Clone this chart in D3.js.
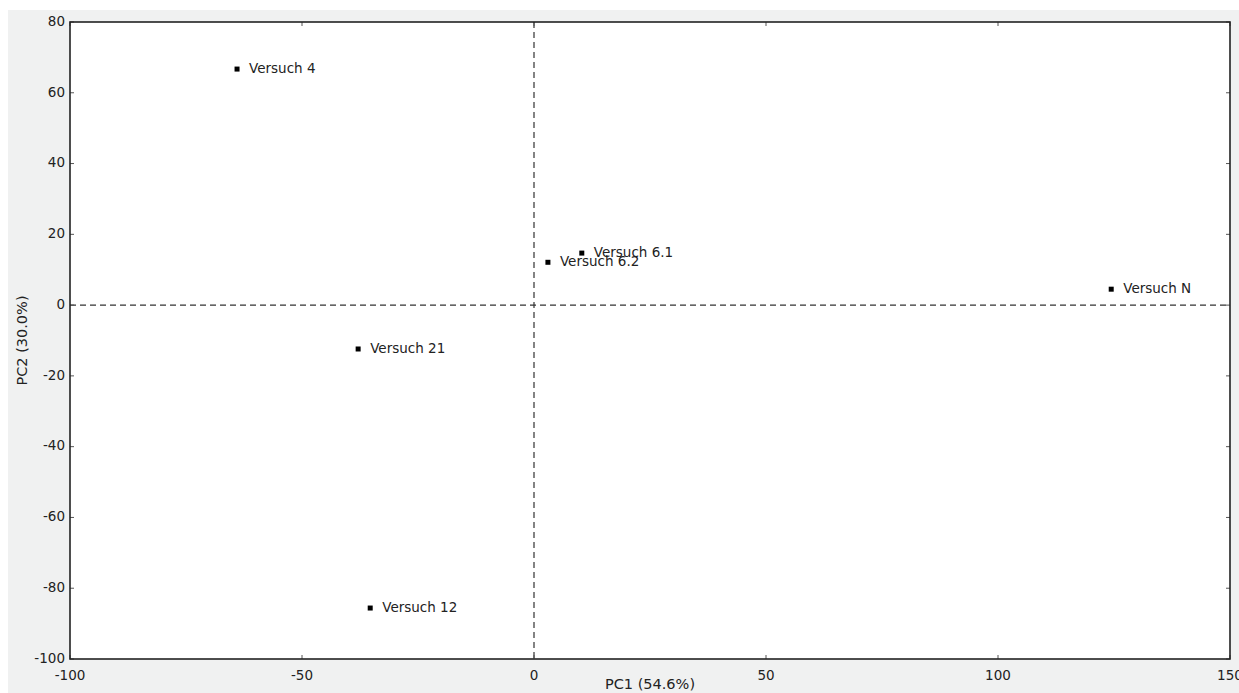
<!DOCTYPE html>
<html lang="de">
<head>
<meta charset="UTF-8" />
<title>PCA Versuche</title>
<script src="https://d3js.org/d3.v7.min.js"></script>
<style>
  html, body { margin: 0; padding: 0; background: #fff; }
  #chart { position: absolute; left: 0; top: 0; }
  text { font-family: "DejaVu Sans", sans-serif; fill: #222; }
</style>
</head>
<body>
<div id="chart"></div>
<script>
// data
const names = ["Versuch 4", "Versuch 6.1", "Versuch 6.2", "Versuch N", "Versuch 21", "Versuch 12"];
const pc1 = [-64.0, 10.3, 3.0, 124.4, -37.9, -35.3];
const pc2 = [66.7, 14.7, 12.1, 4.5, -12.4, -85.6];
const xTicks = [-100, -50, 0, 50, 100, 150];
const yTicks = [-100, -80, -60, -40, -20, 0, 20, 40, 60, 80];

const width = 1239, height = 693;
const plot = { left: 70, right: 1230, top: 22, bottom: 659 };

const svg = d3.select("#chart").append("svg")
  .attr("width", width)
  .attr("height", height);

// grey figure background
svg.append("rect")
  .attr("x", 8).attr("y", 10)
  .attr("width", width - 8).attr("height", height - 10)
  .attr("fill", "#f0f1f1");

const x = d3.scaleLinear().domain([-100, 150]).range([plot.left, plot.right]);
const y = d3.scaleLinear().domain([-100, 80]).range([plot.bottom, plot.top]);

svg.append("rect")
  .attr("x", plot.left).attr("y", plot.top)
  .attr("width", plot.right - plot.left).attr("height", plot.bottom - plot.top)
  .attr("fill", "#fff");

// zero lines
svg.append("line")
  .attr("x1", x(0)).attr("x2", x(0))
  .attr("y1", plot.top).attr("y2", plot.bottom)
  .attr("stroke", "#333").attr("stroke-width", 1.2)
  .attr("stroke-dasharray", "6,4");
svg.append("line")
  .attr("x1", plot.left).attr("x2", plot.right)
  .attr("y1", y(0)).attr("y2", y(0))
  .attr("stroke", "#333").attr("stroke-width", 1.2)
  .attr("stroke-dasharray", "6,4");

// inward ticks on all four sides
const tickLen = 4;
const ticks = svg.append("g").attr("stroke", "#555").attr("stroke-width", 1);
xTicks.forEach(v => {
  ticks.append("line").attr("x1", x(v)).attr("x2", x(v)).attr("y1", plot.bottom).attr("y2", plot.bottom - tickLen);
  ticks.append("line").attr("x1", x(v)).attr("x2", x(v)).attr("y1", plot.top).attr("y2", plot.top + tickLen);
});
yTicks.forEach(v => {
  ticks.append("line").attr("x1", plot.left).attr("x2", plot.left + tickLen).attr("y1", y(v)).attr("y2", y(v));
  ticks.append("line").attr("x1", plot.right).attr("x2", plot.right - tickLen).attr("y1", y(v)).attr("y2", y(v));
});

// tick labels
svg.append("g").selectAll("text").data(xTicks).join("text")
  .attr("x", d => x(d))
  .attr("y", plot.bottom + 21)
  .attr("text-anchor", "middle")
  .attr("font-size", 13.5)
  .text(d => d);
svg.append("g").selectAll("text").data(yTicks).join("text")
  .attr("x", plot.left - 5)
  .attr("y", d => y(d) - 1)
  .attr("dy", "0.35em")
  .attr("text-anchor", "end")
  .attr("font-size", 13.5)
  .text(d => d);

// frame
svg.append("rect")
  .attr("x", plot.left).attr("y", plot.top)
  .attr("width", plot.right - plot.left).attr("height", plot.bottom - plot.top)
  .attr("fill", "none").attr("stroke", "#222").attr("stroke-width", 1.6);

// axis titles
svg.append("text")
  .attr("x", x(25)).attr("y", 689)
  .attr("text-anchor", "middle").attr("font-size", 14.5)
  .text("PC1 (54.6%)");
svg.append("text")
  .attr("transform", `translate(27,${(plot.top + plot.bottom) / 2}) rotate(-90)`)
  .attr("text-anchor", "middle").attr("font-size", 14.5)
  .text("PC2 (30.0%)");

// points and labels
const pts = names.map((n, i) => ({ name: n, pc1: pc1[i], pc2: pc2[i] }));
const g = svg.append("g");
g.selectAll("rect").data(pts).join("rect")
  .attr("x", d => x(d.pc1) - 2.5).attr("y", d => y(d.pc2) - 2.5)
  .attr("width", 5).attr("height", 5)
  .attr("fill", "#000");
g.selectAll("text").data(pts).join("text")
  .attr("x", d => x(d.pc1) + 12)
  .attr("y", d => y(d.pc2) - 1)
  .attr("dy", "0.35em")
  .attr("font-size", 13.5)
  .text(d => d.name);
</script>
</body>
</html>
